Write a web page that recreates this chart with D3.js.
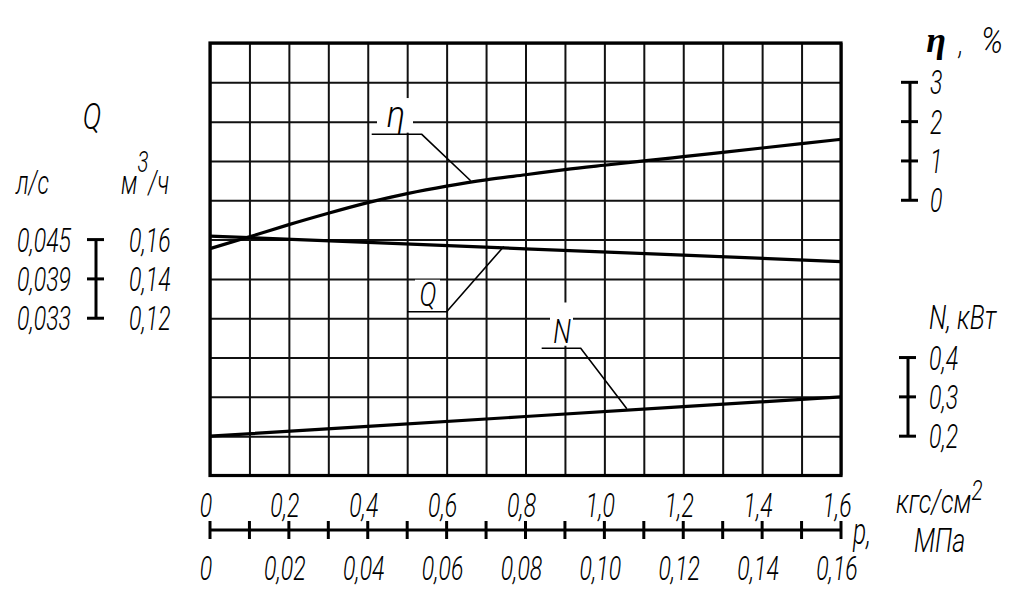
<!DOCTYPE html>
<html>
<head>
<meta charset="utf-8">
<script src="https://cdn.jsdelivr.net/npm/d3@7"></script>
<style>
  html, body { margin: 0; padding: 0; background: #fff; }
  svg { display: block; }
  text { font-family: Roboto, 'Noto Sans', sans-serif; font-style: italic; font-weight: 300; fill: #000; }
</style>
</head>
<body>
<svg id="chart" width="1023" height="602"></svg>
<script>
// ---------------- data ----------------
const pressureKgf = [0, 0.1, 0.2, 0.3, 0.4, 0.5, 0.6, 0.7, 0.8, 0.9, 1.0, 1.1, 1.2, 1.3, 1.4, 1.5, 1.6];
const etaPercent  = [-1.23, -0.93, -0.62, -0.33, -0.06, 0.17, 0.36, 0.52, 0.65, 0.78, 0.89, 1.00, 1.11, 1.22, 1.33, 1.44, 1.55];
const pressureLin = [0, 0.4, 0.8, 1.2, 1.6];
const flowM3h     = [0.1618, 0.1586, 0.1553, 0.1521, 0.1488];
const powerKW     = [0.200, 0.225, 0.250, 0.275, 0.300];

const kgfTicks  = [0, 0.2, 0.4, 0.6, 0.8, 1.0, 1.2, 1.4, 1.6];
const kgfLabels = ["0", "0,2", "0,4", "0,6", "0,8", "1,0", "1,2", "1,4", "1,6"];
const mpaTicks  = [0, 0.02, 0.04, 0.06, 0.08, 0.10, 0.12, 0.14, 0.16];
const mpaLabels = ["0", "0,02", "0,04", "0,06", "0,08", "0,10", "0,12", "0,14", "0,16"];
const etaTicks  = [0, 1, 2, 3];
const etaLabels = ["0", "1", "2", "3"];
const nTicks    = [0.2, 0.3, 0.4];
const nLabels   = ["0,2", "0,3", "0,4"];
const qTicks    = [0.12, 0.14, 0.16];
const qM3hLabels = ["0,12", "0,14", "0,16"];
const qLsLabels  = ["0,033", "0,039", "0,045"];

// ---------------- layout ----------------
const svg = d3.select("#chart");
const L = 210, R = 841, T = 43, B = 475.5;
const x = d3.scaleLinear().domain([0, 1.6]).range([L, R]);
const xMpa = d3.scaleLinear().domain([0, 0.16]).range([L, R]);
const yRow = d3.scaleLinear().domain([0, 11]).range([T, B]);
const yEta = d3.scaleLinear().domain([0, 3]).range([yRow(4), yRow(1)]);
const yQ   = d3.scaleLinear().domain([0.12, 0.16]).range([yRow(7), yRow(5)]);
const yN   = d3.scaleLinear().domain([0.2, 0.4]).range([yRow(10), yRow(8)]);

const FS = 34, SX = 0.68;
function label(sel, tx, ty, str, opts = {}) {
  const sx = opts.sx !== undefined ? opts.sx : SX;
  return sel.append("text")
    .attr("transform", `translate(${tx},${ty}) scale(${sx},1)`)
    .attr("text-anchor", opts.anchor || "middle")
    .style("font-size", (opts.size || FS) + "px")
    .style("letter-spacing", (opts.ls !== undefined ? opts.ls : 0) + "px")
    .style("font-family", opts.family || null)
    .style("font-weight", opts.weight || null)
    .text(str);
}

// ---------------- grid ----------------
const grid = svg.append("g");
grid.append("g").attr("transform", `translate(0,${B})`)
  .call(d3.axisBottom(x).tickValues(d3.range(17).map(i => i / 10)).tickSize(-(B - T)).tickFormat(""))
  .call(g => g.select(".domain").remove())
  .call(g => g.selectAll("line").attr("stroke", "#111").attr("stroke-width", 2));
grid.append("g").attr("transform", `translate(${L},0)`)
  .call(d3.axisLeft(yRow).tickValues(d3.range(12)).tickSize(-(R - L)).tickFormat(""))
  .call(g => g.select(".domain").remove())
  .call(g => g.selectAll("line").attr("stroke", "#111").attr("stroke-width", 2));
grid.append("rect").attr("x", L).attr("y", T).attr("width", R - L).attr("height", B - T)
  .attr("fill", "none").attr("stroke", "#000").attr("stroke-width", 3.2);

// ---------------- curves ----------------
const curves = svg.append("g").attr("fill", "none").attr("stroke", "#000").attr("stroke-width", 3.2);
curves.append("path")
  .attr("d", d3.line().x((d, i) => x(pressureKgf[i])).y(d => yEta(d)).curve(d3.curveNatural)(etaPercent));
curves.append("path")
  .attr("d", d3.line().x((d, i) => x(pressureLin[i])).y(d => yQ(d))(flowM3h));
curves.append("path")
  .attr("d", d3.line().x((d, i) => x(pressureLin[i])).y(d => yN(d))(powerKW));

// ---------------- curve labels with leaders ----------------
function interp(xs, ys, p) { return d3.scaleLinear().domain(xs).range(ys)(p); }
const ann = svg.append("g");
function leader(name, box, txt, under, tip, opts) {
  ann.append("rect").attr("x", box[0]).attr("y", box[1]).attr("width", box[2] - box[0]).attr("height", box[3] - box[1]).attr("fill", "#fff");
  label(ann, txt[0], txt[1], name, opts);
  ann.append("path").attr("fill", "none").attr("stroke", "#000").attr("stroke-width", 1.6)
    .attr("d", `M${under[0]},${under[2]}L${under[1]},${under[2]}L${tip[0]},${tip[1]}`);
}
// η
{
  const p = 0.661;
  leader("η", [377, yRow(1.4), 413, yRow(2.28)], [396, 127],
    [x(0.41), x(0.537), 134.3], [x(p), interp(pressureKgf, etaPercent.map(yEta), p) - 1.5],
    { size: 36, sx: 0.95 });
}
// Q
{
  const p = 0.745;
  leader("Q", [415, yRow(6.02), 440, yRow(6.72)], [428, 306],
    [x(0.5), x(0.6), 311.7], [x(p), yQ(interp(pressureLin, flowM3h, p)) - 1.5], { size: 33, sx: 0.78 });
}
// N
{
  const p = 1.057;
  leader("N", [550, yRow(6.6), 573, yRow(7.7)], [562, 343],
    [x(0.841), x(0.94), 348.3], [x(p), yN(interp(pressureLin, powerKW, p)) - 1.5], { size: 33, sx: 0.78 });
}

// ---------------- bottom pressure scale ----------------
const axisY = 530;
const bx = svg.append("g");
bx.append("line").attr("x1", x(0)).attr("x2", x(1.6)).attr("y1", axisY).attr("y2", axisY)
  .attr("stroke", "#000").attr("stroke-width", 3);
bx.selectAll("line.tk").data(d3.range(17).map(i => i / 10)).join("line").attr("class", "tk")
  .attr("x1", d => x(d)).attr("x2", d => x(d)).attr("y1", axisY - 9).attr("y2", axisY + 9)
  .attr("stroke", "#000").attr("stroke-width", 3);
kgfTicks.forEach((t, i) => label(bx, x(t) - 4, 517, kgfLabels[i]));
mpaTicks.forEach((t, i) => label(bx, xMpa(t) - 4, 580, mpaLabels[i]));
label(bx, 853, 544, "р,", { anchor: "start", size: 36 });
const kg = label(bx, 896, 513, "кгс/см", { anchor: "start", size: 34, sx: 0.74 });
kg.append("tspan").attr("dy", -13).style("font-size", "28px").text("2");
label(bx, 914, 552, "МПа", { anchor: "start", size: 34, sx: 0.74 });

// ---------------- right scales ----------------
const rs = svg.append("g");
function vscale(g, sx, scale, ticks, labels, labelX) {
  g.append("line").attr("x1", sx).attr("x2", sx)
    .attr("y1", scale(ticks[0])).attr("y2", scale(ticks[ticks.length - 1]))
    .attr("stroke", "#000").attr("stroke-width", 3);
  ticks.forEach((t, i) => {
    g.append("line").attr("x1", sx - 9).attr("x2", sx + 8).attr("y1", scale(t)).attr("y2", scale(t))
      .attr("stroke", "#000").attr("stroke-width", 3);
    if (labels) label(g, labelX, scale(t) + 12, labels[i], { anchor: "start" });
  });
}
vscale(rs, 910, yEta, etaTicks, etaLabels, 930);
label(rs, 936, 52, "η", { family: "'Liberation Serif', serif", size: 36, sx: 1, weight: 700 });
label(rs, 961, 54, ",", { size: 34 });
label(rs, 992, 53, "%", { size: 36, sx: 0.85 });

vscale(rs, 908, yN, nTicks, nLabels, 929);
label(rs, 929, 329, "N, кВт", { anchor: "start", size: 34, sx: 0.74 });

// ---------------- left Q scale ----------------
const ls = svg.append("g");
vscale(ls, 96, yQ, qTicks, null, 0);
qTicks.forEach((t, i) => {
  label(ls, 17, yQ(t) + 12, qLsLabels[i], { anchor: "start" });
  label(ls, 129, yQ(t) + 12, qM3hLabels[i], { anchor: "start" });
});
label(ls, 92, 129, "Q", { size: 36, sx: 0.78 });
label(ls, 16, 194, "л/с", { anchor: "start", size: 34 });
const m3 = label(ls, 121, 194, "м", { anchor: "start", size: 34 });
m3.append("tspan").attr("dy", -22).style("font-size", "30px").text("3");
m3.append("tspan").attr("dy", 22).text("/ч");
</script>
</body>
</html>
